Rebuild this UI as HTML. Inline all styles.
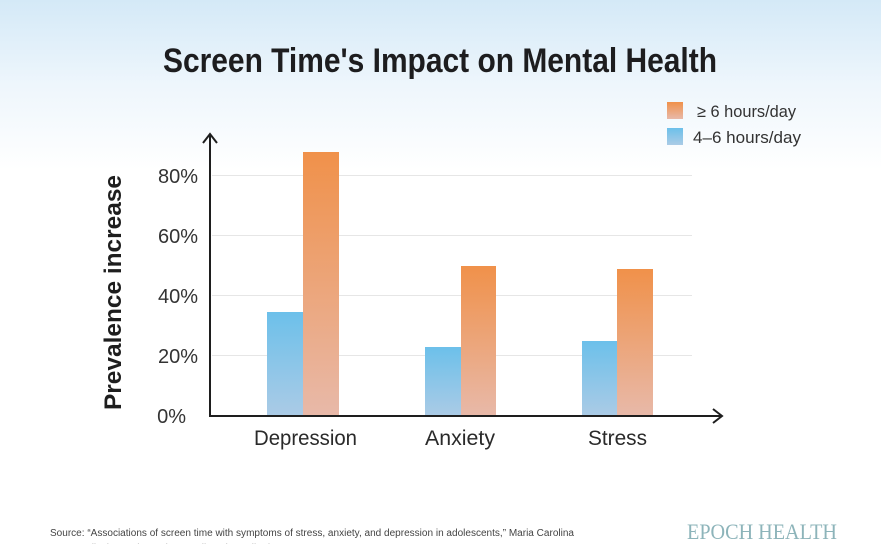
<!DOCTYPE html>
<html><head><meta charset="utf-8"><style>
html,body{margin:0;padding:0;width:881px;height:544px;overflow:hidden;background:#fff}
svg{display:block}
</style></head><body>
<svg width="881" height="544" viewBox="0 0 881 544" xmlns="http://www.w3.org/2000/svg">
<defs>
<linearGradient id="bg" x1="0" y1="0" x2="0" y2="1">
<stop offset="0" stop-color="#d4e9f7"/>
<stop offset="0.5" stop-color="#eef6fc"/>
<stop offset="1" stop-color="#ffffff"/>
</linearGradient>
<linearGradient id="gb" x1="0" y1="0" x2="0" y2="1">
<stop offset="0" stop-color="#6cc0ea"/>
<stop offset="1" stop-color="#abcbe6"/>
</linearGradient>
<linearGradient id="go" x1="0" y1="0" x2="0" y2="1">
<stop offset="0" stop-color="#f0914a"/>
<stop offset="1" stop-color="#e8b9a9"/>
</linearGradient>
</defs>
<rect x="0" y="0" width="881" height="544" fill="#fff"/>
<rect x="0" y="0" width="881" height="170" fill="url(#bg)"/>

<text x="163" y="72" font-family="Liberation Sans, sans-serif" font-weight="bold" font-size="34" fill="#1d1d1f" textLength="554" lengthAdjust="spacingAndGlyphs">Screen Time's Impact on Mental Health</text>

<!-- legend -->
<rect x="667" y="102" width="16" height="17" fill="url(#go)"/>
<text x="697" y="117" font-family="Liberation Sans, sans-serif" font-size="17" fill="#333" textLength="99" lengthAdjust="spacingAndGlyphs">≥ 6 hours/day</text>
<rect x="667" y="128" width="16" height="17" fill="url(#gb)"/>
<text x="693" y="143" font-family="Liberation Sans, sans-serif" font-size="17" fill="#333" textLength="108" lengthAdjust="spacingAndGlyphs">4–6 hours/day</text>

<!-- gridlines -->
<g stroke="#e6e6e6" stroke-width="1">
<line x1="212" y1="175.5" x2="692" y2="175.5"/>
<line x1="212" y1="235.5" x2="692" y2="235.5"/>
<line x1="212" y1="295.5" x2="692" y2="295.5"/>
<line x1="212" y1="355.5" x2="692" y2="355.5"/>
</g>

<!-- bars -->
<rect x="267" y="312" width="36" height="104" fill="url(#gb)"/>
<rect x="303" y="152" width="36" height="264" fill="url(#go)"/>
<rect x="425" y="347" width="36" height="69" fill="url(#gb)"/>
<rect x="461" y="266" width="35" height="150" fill="url(#go)"/>
<rect x="582" y="341" width="35" height="75" fill="url(#gb)"/>
<rect x="617" y="269" width="36" height="147" fill="url(#go)"/>

<!-- axes -->
<g stroke="#1e1e1e" stroke-width="2" fill="none">
<line x1="210" y1="134" x2="210" y2="416"/>
<line x1="209" y1="416" x2="722" y2="416"/>
<polyline points="203,143 210,134 217,143"/>
<polyline points="713,409 722,416 713,423"/>
</g>

<!-- tick labels -->
<g font-family="Liberation Sans, sans-serif" font-size="20" fill="#333" text-anchor="end">
<text x="198" y="183">80%</text>
<text x="198" y="243">60%</text>
<text x="198" y="303">40%</text>
<text x="198" y="363">20%</text>
<text x="186" y="423">0%</text>
</g>

<text transform="translate(121,410) rotate(-90)" font-family="Liberation Sans, sans-serif" font-weight="bold" font-size="24" fill="#1e1e1e" textLength="235" lengthAdjust="spacingAndGlyphs">Prevalence increase</text>

<!-- categories -->
<g font-family="Liberation Sans, sans-serif" font-size="21" fill="#2a2a2a">
<text x="254" y="445" textLength="103" lengthAdjust="spacingAndGlyphs">Depression</text>
<text x="425" y="445" textLength="70" lengthAdjust="spacingAndGlyphs">Anxiety</text>
<text x="588" y="445" textLength="59" lengthAdjust="spacingAndGlyphs">Stress</text>
</g>

<!-- footer -->
<text x="50" y="536" font-family="Liberation Sans, sans-serif" font-size="10" fill="#444" textLength="524" lengthAdjust="spacingAndGlyphs">Source: “Associations of screen time with symptoms of stress, anxiety, and depression in adolescents,” Maria Carolina</text>
<text x="50" y="551" font-family="Liberation Sans, sans-serif" font-size="10" fill="#999">Santos Oliveira et al., Revista Paulista de Pediatria, 2022</text>
<text x="687" y="539" font-family="Liberation Serif, serif" font-size="22" fill="#8db4ba" textLength="150" lengthAdjust="spacingAndGlyphs">EPOCH HEALTH</text>
</svg>
</body></html>
